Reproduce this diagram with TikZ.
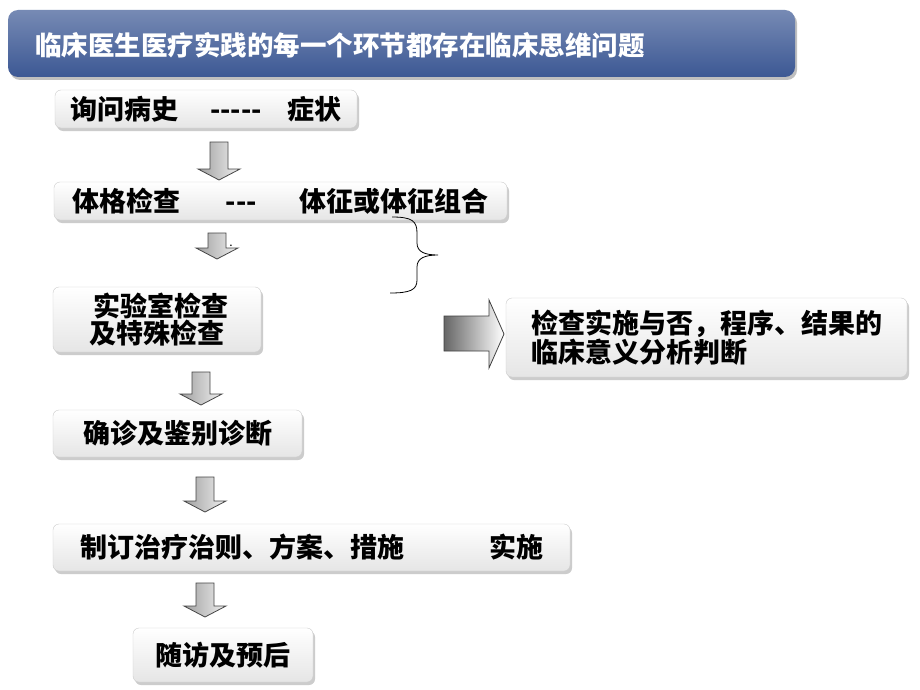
\documentclass[tikz,border=0pt]{standalone}
\usepackage{fontspec}
\setmainfont{Noto Sans CJK SC}
\usetikzlibrary{shadows}

\definecolor{titleblue}{RGB}{60,88,148}

% block arrow pointing down: name, x, top y, tip y
\newcommand{\blockdown}[4]{%
  \coordinate (#1) at (#2,#3);
  \path[downfill] (#1) ++(-9,0) -- ++(18,0) -- (#2+9,#4-11) -- (#2+21,#4-11)
    -- (#2,#4) -- (#2-21,#4-11) -- (#2-9,#4-11) -- cycle;}

\tikzset{
  flowbox/.style={draw=gray!40, rounded corners=6pt, top color=white, bottom color=gray!20,
    drop shadow={opacity=0.4, shadow xshift=2pt, shadow yshift=-3pt},
    font=\fontsize{27}{25}\selectfont\bfseries, inner sep=0pt},
  downfill/.style={left color=gray!75, right color=gray!12, draw=gray!55!black, line width=0.8pt},
  rightfill/.style={left color=gray!80!black, right color=white, draw=black!75, line width=0.8pt},
}

\begin{document}
\begin{tikzpicture}[x=1pt,y=-1pt]
  \fill[white] (0,0) rectangle (920,690);
  \useasboundingbox (0,0) rectangle (920,690);

  % title bar
  \path[rounded corners=10pt, top color=titleblue!70!white, middle color=titleblue!85!black,
    bottom color=titleblue, drop shadow={opacity=0.5, shadow xshift=2pt, shadow yshift=-3pt}]
    (8,10) rectangle (795,77);
  \node[anchor=west, text=white, font=\fontsize{26.5}{26}\selectfont\bfseries, inner sep=0pt]
    (title) at (35,45) {临床医生医疗实践的每一个环节都存在临床思维问题};

  % flow boxes
  \node[flowbox, minimum width=302, minimum height=38] (hist) at (206,109)
    {询问病史\hspace{32pt}-{}-{}-{}-{}-\hspace{26pt}症状};
  \node[flowbox, minimum width=453, minimum height=38] (exam) at (280.5,201)
    {体格检查\hspace{45pt}-{}-{}-\hspace{42pt}体征或体征组合};
  \node[flowbox, minimum width=208, minimum height=65, align=center] (lab) at (157,319.5)
    {\hspace{8pt}实验室检查\\及特殊检查};
  \node[flowbox, minimum width=401, minimum height=79, align=left] (judge) at (706.5,337.5)
    {检查实施与否，程序、结果的\\临床意义分析判断};
  \node[flowbox, minimum width=249, minimum height=47] (diag) at (177.5,433.5)
    {确诊及鉴别诊断};
  \node[flowbox, minimum width=517, minimum height=47] (treat) at (311.5,547.5)
    {制订治疗治则、方案、措施\hspace{85pt}实施};
  \node[flowbox, minimum width=180, minimum height=54] (follow) at (223,655)
    {随访及预后};

  % arrows
  \blockdown{a1}{219}{142}{180}
  \blockdown{a2}{217}{233}{259}
  \node[font=\fontsize{12}{12}\selectfont, inner sep=0pt] (dot) at (231,246) {.};
  \blockdown{a3}{201}{372}{405}
  \blockdown{a4}{205}{477}{512}
  \blockdown{a5}{205}{583}{617}

  % brace
  \coordinate (bt) at (392,217);
  \coordinate (bm) at (438,255);
  \coordinate (bb) at (390,293);
  \draw[line width=0.8pt] (bt) .. controls (412,217) and (417,221) .. (417,233) -- (417,243)
    .. controls (417,252) and (425,255) .. (bm)
    .. controls (425,255) and (417,258) .. (417,267) -- (417,280)
    .. controls (417,290) and (410,293) .. (bb);

  % right block arrow
  \path[rightfill] (444,316) -- (489,316) -- (489,300) -- (504,334) -- (489,368)
    -- (489,351) -- (444,351) -- cycle;
\end{tikzpicture}
\end{document}
